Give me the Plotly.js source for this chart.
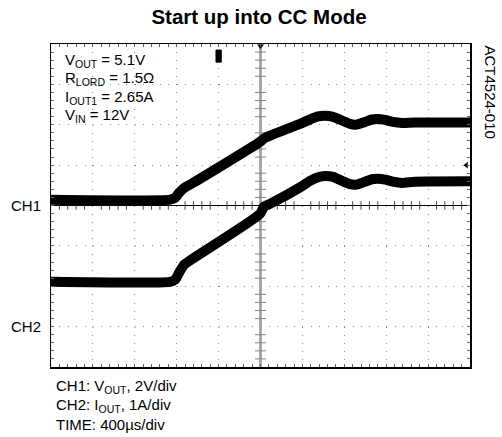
<!DOCTYPE html>
<html>
<head>
<meta charset="utf-8">
<script src="https://cdn.plot.ly/plotly-3.0.1.min.js"></script>
<style>html,body{margin:0;padding:0;background:#fff;}#chart{width:502px;height:437px;}</style>
</head>
<body>
<div id="chart"></div>
<script>
// Time axis in microseconds (400 µs/div, trigger at centre)
var ch1Time = [-2000, -864, -816, -778, -730, -654, -5, 33, 377, 473, 549, 616, 692, 778, 854, 921, 998, 1064, 1122, 1189, 1265, 1351, 1475, 2000];
// CH1: VOUT in volts (2 V/div)
var ch1Volt = [0.29, 0.29, 0.38, 0.62, 0.87, 1.09, 3.15, 3.32, 4.04, 4.26, 4.41, 4.44, 4.39, 4.21, 4.04, 4.01, 4.14, 4.26, 4.29, 4.24, 4.14, 4.09, 4.11, 4.11];
var ch2Time = [-2000, -864, -816, -778, -730, -654, -5, 33, 90, 377, 473, 549, 616, 692, 778, 854, 921, 998, 1064, 1122, 1189, 1265, 1351, 1475, 2000];
// CH2: IOUT in amps (1 A/div)
var ch2Amp = [1.11, 1.11, 1.16, 1.33, 1.53, 1.67, 2.79, 2.97, 3.04, 3.45, 3.61, 3.70, 3.73, 3.71, 3.61, 3.53, 3.52, 3.59, 3.65, 3.66, 3.64, 3.59, 3.56, 3.59, 3.60];

var infoLines = ["V<sub>OUT</sub> = 5.1V", "R<sub>LORD</sub> = 1.5\u03A9", "I<sub>OUT1</sub> = 2.65A", "V<sub>IN</sub> = 12V"];
var footLines = ["CH1: V<sub>OUT</sub>, 2V/div", "CH2: I<sub>OUT</sub>, 1A/div", "TIME: 400\u00B5s/div"];
var titleText = "Start up into CC Mode";
var sideLabel = "ACT4524-010";

var FONT = "Liberation Sans, Arial, Helvetica, sans-serif";

// graticule ticks on centre lines
var hx = [], hy = [];
for (var k = -24; k <= 24; k++) { if (k % 5 !== 0) { hx.push(k * 80); hy.push(0); } }
var vx = [], vy = [];
for (var j = -19; j <= 19; j++) { if (j % 5 !== 0) { vy.push(j * 0.4); vx.push(0); } }

var traces = [
  {x: hx, y: hy, mode: 'markers', type: 'scatter', hoverinfo: 'skip',
   marker: {symbol: 'line-ns', size: 6, line: {color: '#444', width: 1}}},
  {x: vx, y: vy, mode: 'markers', type: 'scatter', hoverinfo: 'skip',
   marker: {symbol: 'line-ew', size: 8, line: {color: '#888', width: 1}}},
  {x: ch1Time, y: ch1Volt, mode: 'lines', type: 'scatter', name: 'CH1',
   line: {color: '#000', width: 10, shape: 'spline', smoothing: 0.6}},
  {x: ch2Time, y: ch2Amp, mode: 'lines', type: 'scatter', name: 'CH2', yaxis: 'y2',
   line: {color: '#000', width: 10, shape: 'spline', smoothing: 0.6}},
  {x: [0], y: [7.9], mode: 'markers', type: 'scatter', hoverinfo: 'skip', cliponaxis: false,
   marker: {symbol: 'triangle-down', size: 6, color: '#000'}},
  {x: [1965], y: [2], mode: 'markers', type: 'scatter', hoverinfo: 'skip', cliponaxis: false,
   marker: {symbol: 'triangle-left', size: 6, color: '#000'}}
];

function py(p) { return (367 - p) / 323; }

var annotations = [];
var infoY = [60, 78.5, 97, 115.5];
infoLines.forEach(function (t, i) {
  annotations.push({text: t, xref: 'paper', yref: 'paper', x: (63 - 51) / 419, y: py(infoY[i]),
    xanchor: 'left', yanchor: 'middle', showarrow: false, font: {family: FONT, size: 15, color: '#000'}});
});
var footY = [386.5, 405, 424];
footLines.forEach(function (t, i) {
  annotations.push({text: t, xref: 'paper', yref: 'paper', x: (54 - 51) / 419, y: py(footY[i]),
    xanchor: 'left', yanchor: 'middle', showarrow: false, font: {family: FONT, size: 15, color: '#000'}});
});
annotations.push({text: 'CH1', xref: 'paper', yref: 'paper', x: -0.018, y: 0.5, xanchor: 'right', yanchor: 'middle',
  showarrow: false, font: {family: FONT, size: 15, color: '#000'}});
annotations.push({text: 'CH2', xref: 'paper', yref: 'paper', x: -0.018, y: 0.125, xanchor: 'right', yanchor: 'middle',
  showarrow: false, font: {family: FONT, size: 15, color: '#000'}});
annotations.push({text: sideLabel, xref: 'paper', yref: 'paper', x: (490 - 51) / 419, y: py(43), xanchor: 'center', yanchor: 'top',
  textangle: 90, showarrow: false, font: {family: FONT, size: 15, color: '#000'}});

var layout = {
  width: 502, height: 437,
  margin: {l: 51, r: 32, t: 44, b: 70, pad: 0},
  paper_bgcolor: '#fff', plot_bgcolor: '#fff',
  showlegend: false,
  title: {text: '<b>' + titleText + '</b>', x: 259 / 502, xanchor: 'center', y: 1 - 17 / 437, yanchor: 'middle',
    font: {family: FONT, size: 20.5, color: '#000'}},
  xaxis: {range: [-2000, 2000], dtick: 400, tick0: 0, showticklabels: false,
    showgrid: true, gridcolor: '#8a8a8a', gridwidth: 1, griddash: '1px,7.08px',
    zeroline: true, zerolinecolor: '#a8a8a8', zerolinewidth: 3,
    showline: true, linecolor: '#000', linewidth: 1.5, mirror: 'allticks',
    ticks: 'inside', ticklen: 3, tickcolor: '#666', tickwidth: 1,
    minor: {dtick: 80, tick0: 0, ticks: 'inside', ticklen: 3, tickcolor: '#666', tickwidth: 1, showgrid: false},
    fixedrange: true},
  yaxis: {range: [-8, 8], dtick: 2, tick0: 0, showticklabels: false,
    showgrid: true, gridcolor: '#8a8a8a', gridwidth: 1, griddash: '1px,7.38px',
    zeroline: true, zerolinecolor: '#000', zerolinewidth: 1.2,
    showline: true, linecolor: '#000', linewidth: 1.5, mirror: 'allticks',
    ticks: 'inside', ticklen: 3, tickcolor: '#666', tickwidth: 1,
    minor: {dtick: 0.4, tick0: 0, ticks: 'inside', ticklen: 3, tickcolor: '#666', tickwidth: 1, showgrid: false},
    fixedrange: true},
  yaxis2: {range: [-1, 7], overlaying: 'y', visible: false, fixedrange: true},
  shapes: [
    {type: 'rect', xref: 'x', yref: 'y', x0: -425, x1: -375, y0: 7.1, y1: 7.7,
     fillcolor: '#000', line: {color: '#000', width: 1}}
  ],
  annotations: annotations
};

Plotly.newPlot('chart', traces, layout, {displayModeBar: false, staticPlot: true});
</script>
</body>
</html>
